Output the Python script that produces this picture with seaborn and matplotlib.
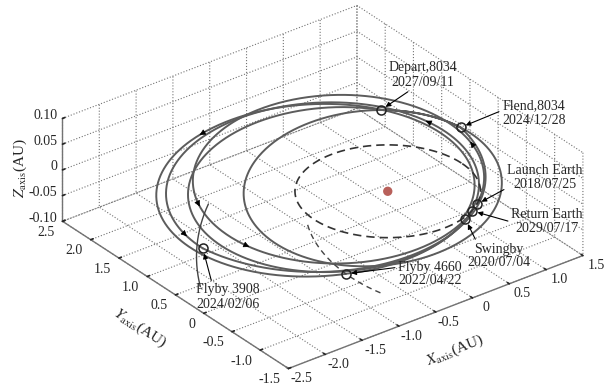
import numpy as np
import matplotlib
matplotlib.use("Agg")
import matplotlib.pyplot as plt
import seaborn as sns
from mpl_toolkits.mplot3d import proj3d

sns.set_theme(style="white")
plt.rcParams["font.family"] = ["Liberation Serif", "DejaVu Serif"]
plt.rcParams["mathtext.fontset"] = "stix"
plt.rcParams["grid.linestyle"] = ":"
plt.rcParams["grid.color"] = "0.45"
plt.rcParams["grid.linewidth"] = 0.8

# ---------------- data ----------------
x_ticks = [-2.5, -2.0, -1.5, -1.0, -0.5, 0.0, 0.5, 1.0, 1.5]
x_ticklabels = ["-2.5", "-2.0", "-1.5", "-1.0", "-0.5", "0", "0.5", "1.0", "1.5"]
y_ticks = [-1.5, -1.0, -0.5, 0.0, 0.5, 1.0, 1.5, 2.0, 2.5]
y_ticklabels = ["-1.5", "-1.0", "-0.5", "0", "0.5", "1.0", "1.5", "2.0", "2.5"]
z_ticks = [-0.10, -0.05, 0.0, 0.05, 0.10]
z_ticklabels = ["-0.10", "-0.05", "0", "0.05", "0.10"]

earth_orbit_radius = 1.0

# transfer arcs (semi-major axis AU, eccentricity, longitude of perihelion deg,
# inclination deg, ascending node deg, start / end heliocentric longitude deg)
arc_sma = [1.59, 1.717, 1.689, 1.858, 1.393, 1.573]
arc_ecc = [0.37, 0.456, 0.42, 0.45, 0.1257, 0.3725]
arc_peri = [-63, -43, -45, -59, -60, -44.6]
arc_inc = [1.2, 1.2, 1.2, 1.2, 1.2, 1.2]
arc_node = [-60, -60, -60, -60, -60, -60]
arc_lon0 = [-55, -71, 215, 166, 16.4, 55.4]
arc_lon1 = [289, 215, 526, 376.4, 415.4, 298]

# asteroid orbit segments near the flybys (4660 dashed, 3908 solid)
seg_sma = [1.50, 1.93]
seg_ecc = [0.50, 0.46]
seg_peri = [95, 31.5]
seg_inc = [1.4, 3.0]
seg_node = [-24, -31]
seg_lon0 = [178, 150]
seg_lon1 = [231, 177]
seg_dashed = [True, False]

# events
event_labels = ["Launch Earth\n2018/07/25", "Swingby\n2020/07/04",
                "Flyby 4660\n2022/04/22", "Flyby 3908\n2024/02/06",
                "Flend,8034\n2024/12/28", "Depart,8034\n2027/09/11",
                "Return Earth\n2029/07/17"]
event_arc = [0, 0, 1, 2, 3, 4, 5]
event_lon = [-55, 289, 215, 526, 376.4, 415.4, 298]

# direction arrows along the arcs
arrow_arc = [1, 0, 2, 0, 2, 0]
arrow_lon = [112, 145, 518, 172, 393, 4]

# ---------------- layout ----------------
label_xy = [(545, 177), (499, 256), (430, 274), (228, 297), (534, 113), (423, 75), (547, 222)]
label_rel = [(0.0, 0.1), (0.15, 1.0), (0.0, 0.75), (0.25, 1.0), (0.0, 0.6), (0.35, 0.0), (0.0, 0.5)]


def orbit_xyz(a, e, peri, inc, node, lon_deg):
    lon = np.radians(lon_deg)
    r = a * (1 - e ** 2) / (1 + e * np.cos(lon - np.radians(peri)))
    x = r * np.cos(lon)
    y = r * np.sin(lon)
    z = r * np.sin(np.radians(inc)) * np.sin(lon - np.radians(node))
    return x, y, z


W, H = 609, 387
fig = plt.figure(figsize=(W / 100, H / 100), dpi=100)
ax = fig.add_axes([0.0213, 0.0033, 1.0, 1.0], projection="3d", proj_type="ortho")
ax.view_init(elev=30, azim=-127.5)
ax.set_xlim(-2.5, 1.5)
ax.set_ylim(-1.5, 2.5)
ax.set_zlim(-0.1, 0.1)
ax.set_box_aspect((1, 1, 0.32), zoom=1.35)

line_col = "#5c5c5c"
for i in range(len(arc_sma)):
    lon = np.linspace(arc_lon0[i], arc_lon1[i], 600)
    x, y, z = orbit_xyz(arc_sma[i], arc_ecc[i], arc_peri[i], arc_inc[i], arc_node[i], lon)
    ax.plot(x, y, z, color=line_col, lw=1.4)

for i in range(len(seg_sma)):
    lon = np.linspace(seg_lon0[i], seg_lon1[i], 200)
    x, y, z = orbit_xyz(seg_sma[i], seg_ecc[i], seg_peri[i], seg_inc[i], seg_node[i], lon)
    ax.plot(x, y, z, color="#444444", lw=1.0, ls=(0, (4, 3)) if seg_dashed[i] else "-")

th = np.linspace(0, 2 * np.pi, 400)
ax.plot(earth_orbit_radius * np.cos(th), earth_orbit_radius * np.sin(th), np.zeros_like(th),
        color="#333333", lw=1.2, ls=(0, (5, 3)))
ax.scatter([0], [0], [0], s=45, color="#b8605a", edgecolors="none", depthshade=False)

ax.set_xticks(x_ticks)
ax.set_xticklabels([""] * len(x_ticks))
ax.set_yticks(y_ticks)
ax.set_yticklabels([""] * len(y_ticks))
ax.set_zticks(z_ticks)
ax.set_zticklabels([""] * len(z_ticks))
for axis in (ax.xaxis, ax.yaxis, ax.zaxis):
    axis.set_pane_color((1, 1, 1, 0))
    axis.pane.set_edgecolor((1, 1, 1, 0))
    axis.line.set_color("0.45")
    axis.line.set_linewidth(1.0)
    axis._axinfo["tick"]["inward_factor"] = 0.0
    axis._axinfo["tick"]["outward_factor"] = 0.1
ax.set_xlabel("")
ax.set_ylabel("")
ax.set_zlabel("")
ax.grid(True)

fig.text(20 / W, 1 - 168 / H, r"$Z_{\rm axis}$(AU)", rotation=90, ha="center", va="center", fontsize=11)
fig.text(140 / W, 1 - 328 / H, r"$Y_{\rm axis}$(AU)", rotation=-33, ha="center", va="center",
         fontsize=11, rotation_mode="anchor")
fig.text(455 / W, 1 - 350 / H, r"$X_{\rm axis}$(AU)", rotation=22, ha="center", va="center",
         fontsize=11, rotation_mode="anchor")

fig.canvas.draw()
M = ax.get_proj()


def to2d(x, y, z):
    px, py, _ = proj3d.proj_transform(np.atleast_1d(x), np.atleast_1d(y), np.atleast_1d(z), M)
    return float(px[0]), float(py[0])


# tick labels placed next to the axis edges
for v, s in zip(x_ticks, x_ticklabels):
    ax.annotate(s, xy=to2d(v, -1.5, -0.1), xycoords="data", xytext=(13, -10),
                textcoords="offset pixels", ha="center", va="center", fontsize=10,
                annotation_clip=False)
for v, s in zip(y_ticks, y_ticklabels):
    ax.annotate(s, xy=to2d(-2.5, v, -0.1), xycoords="data", xytext=(-8, -11),
                textcoords="offset pixels", ha="right", va="center", fontsize=10,
                annotation_clip=False)
for v, s in zip(z_ticks, z_ticklabels):
    ax.annotate(s, xy=to2d(-2.5, 2.5, v), xycoords="data", xytext=(-5, 3),
                textcoords="offset pixels", ha="right", va="center", fontsize=10,
                annotation_clip=False)

# events: markers and labels
for k in range(len(event_labels)):
    i = event_arc[k]
    x, y, z = orbit_xyz(arc_sma[i], arc_ecc[i], arc_peri[i], arc_inc[i], arc_node[i], event_lon[k])
    ax.plot([x], [y], [z], marker="o", ms=6.5, mfc="none", mec="#222222", mew=1.1, ls="none")
    p = to2d(x, y, z)
    cx, cy = label_xy[k]
    ax.annotate(event_labels[k], xy=p, xycoords="data", xytext=(cx, H - cy),
                textcoords="figure pixels", ha="center", va="center", fontsize=10,
                linespacing=1.1, annotation_clip=False,
                arrowprops=dict(arrowstyle="-|>", color="black", lw=0.8, shrinkA=0,
                                shrinkB=4, mutation_scale=7, relpos=label_rel[k]))

# direction arrows
for k in range(len(arrow_arc)):
    i = arrow_arc[k]
    pa = to2d(*orbit_xyz(arc_sma[i], arc_ecc[i], arc_peri[i], arc_inc[i], arc_node[i], arrow_lon[k] - 1.0))
    pb = to2d(*orbit_xyz(arc_sma[i], arc_ecc[i], arc_peri[i], arc_inc[i], arc_node[i], arrow_lon[k] + 1.0))
    ax.annotate("", xy=pb, xytext=pa, xycoords="data", annotation_clip=False,
                arrowprops=dict(arrowstyle="-|>", color="black", lw=0.5, shrinkA=0, shrinkB=0,
                                mutation_scale=9))

fig.savefig("out.png", dpi=100)
